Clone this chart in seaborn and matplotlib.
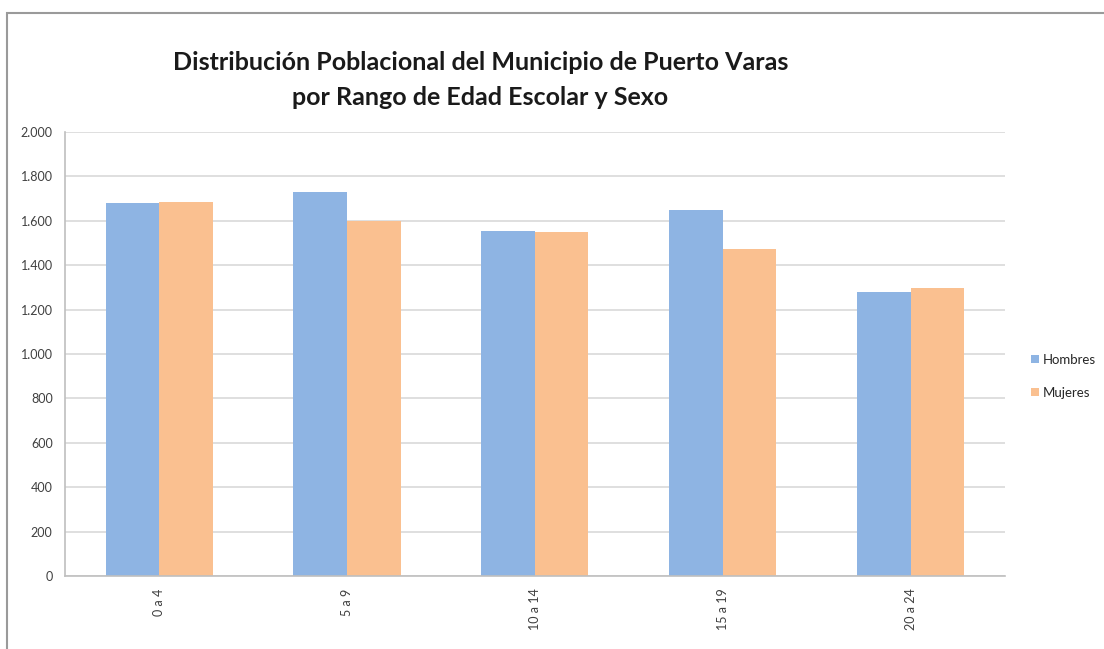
import pandas as pd
import seaborn as sns
import matplotlib.pyplot as plt
from matplotlib.patches import Rectangle
from matplotlib.ticker import FuncFormatter

# data
rangos = ['0 a 4', '5 a 9', '10 a 14', '15 a 19', '20 a 24']
hombres = [1680, 1728, 1555, 1650, 1280]
mujeres = [1686, 1600, 1550, 1475, 1297]

df = pd.DataFrame({
    'rango': rangos * 2,
    'valor': hombres + mujeres,
    'sexo': ['Hombres'] * len(rangos) + ['Mujeres'] * len(rangos),
})

sns.set_style('white')
plt.rcParams['font.family'] = ['Lato', 'DejaVu Sans']

fig = plt.figure(figsize=(11.04, 6.49), dpi=100)
ax = fig.add_axes([0.059, 0.1125, 0.851, 0.684])

sns.barplot(data=df, x='rango', y='valor', hue='sexo', order=rangos,
            palette={'Hombres': '#8EB4E3', 'Mujeres': '#FAC090'},
            width=0.57, saturation=1, linewidth=0, ax=ax, legend=True)

ax.set_ylim(0, 2000)
ax.set_xlim(-0.5, 4.5)
ax.set_yticks(range(0, 2001, 200))
ax.yaxis.set_major_formatter(FuncFormatter(lambda v, p: f'{int(v):,}'.replace(',', '.')))
ax.grid(axis='y', color='#d9d9d9', linewidth=1.2)
ax.set_axisbelow(True)
ax.set_xlabel('')
ax.set_ylabel('')

for s in ['top', 'right']:
    ax.spines[s].set_visible(False)
for s in ['left', 'bottom']:
    ax.spines[s].set_color('#bfbfbf')
    ax.spines[s].set_linewidth(1.2)

ax.tick_params(axis='y', length=5, color='#bfbfbf', labelsize=9, labelcolor='#404040', pad=4)
ax.tick_params(axis='x', length=0, labelsize=9, labelcolor='#404040', labelrotation=90, pad=9)
# category boundary ticks
ax.set_xticks([-0.5, 0.5, 1.5, 2.5, 3.5, 4.5], minor=True)
ax.tick_params(axis='x', which='minor', length=6, color='#bfbfbf', width=1.2)

leg = ax.legend(loc='center left', bbox_to_anchor=(1.015, 0.45), frameon=False,
                fontsize=9.5, handlelength=0.6, handleheight=0.6, handletextpad=0.3,
                labelspacing=1.6, labelcolor='#262626')

fig.text(0.435, 0.877, 'Distribución Poblacional del Municipio de Puerto Varas\npor Rango de Edad Escolar y Sexo',
         ha='center', va='center', fontsize=18, fontweight='bold', color='#1a1a1a',
         linespacing=1.6)

fig.patches.append(Rectangle((0.006, -0.01), 1.1, 0.99, transform=fig.transFigure,
                             fill=False, edgecolor='#9a9a9a', linewidth=1.5))

fig.savefig('out.png', dpi=100)
